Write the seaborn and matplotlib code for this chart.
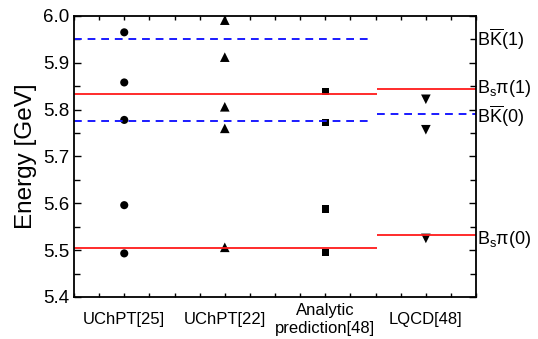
import matplotlib
matplotlib.use("Agg")
import matplotlib.pyplot as plt
from matplotlib.ticker import MultipleLocator
import seaborn as sns
import pandas as pd

sns.set_style("ticks")
plt.rcParams['font.family'] = ['Liberation Sans', 'DejaVu Sans']
plt.rcParams['mathtext.fontset'] = 'custom'
plt.rcParams['mathtext.rm'] = 'Liberation Sans'
plt.rcParams['mathtext.it'] = 'Liberation Sans'
plt.rcParams['text.color'] = 'black'
plt.rcParams['axes.labelcolor'] = 'black'
plt.rcParams['xtick.color'] = 'black'
plt.rcParams['ytick.color'] = 'black'

# Data
categories = ["UChPT[25]", "UChPT[22]", "Analytic\nprediction[48]", "LQCD[48]"]
uchpt25 = [5.965, 5.858, 5.778, 5.596, 5.493]
uchpt22 = [5.991, 5.912, 5.806, 5.760, 5.506]
analytic = [5.838, 5.772, 5.588, 5.495]
lqcd = [5.822, 5.757, 5.525]
markers = ["o", "^", "s", "v"]
marker_sizes = [34, 48, 28, 48]

# thresholds (physical) and lattice ones
bspi_phys = [5.505, 5.833]
bk_phys = [5.775, 5.950]
bspi_lqcd = [5.532, 5.843]
bk_lqcd = [5.790]
threshold_labels = [r"$\mathrm{B\overline{K}(1)}$", r"$\mathrm{B_s\pi(1)}$",
                    r"$\mathrm{B\overline{K}(0)}$", r"$\mathrm{B_s\pi(0)}$"]
threshold_label_y = [5.950, 5.846, 5.785, 5.522]
yticks = [5.4, 5.5, 5.6, 5.7, 5.8, 5.9, 6.0]

series = [uchpt25, uchpt22, analytic, lqcd]
rows = []
for i, (cat, vals) in enumerate(zip(categories, series)):
    for v in vals:
        rows.append({"pos": i + 1, "method": cat, "energy": v})
df = pd.DataFrame(rows)

fig = plt.figure(figsize=(5.38, 3.39), dpi=100)
ax = fig.add_axes([0.1375, 0.124, 0.7475, 0.829])

sns.scatterplot(data=df, x="pos", y="energy", style="method", size="method",
                markers=dict(zip(categories, markers)),
                sizes=dict(zip(categories, marker_sizes)), color="black",
                edgecolor="black", linewidth=0, legend=False, ax=ax)

ax.hlines(bspi_phys, 0.5, 3.517, colors="#ff1a1a", linewidth=1.3, zorder=1)
ax.hlines(bk_phys, 0.5, 3.45, colors="#1a1aff", linewidth=1.4,
          linestyles=(0, (4, 3)), zorder=1)
ax.hlines(bspi_lqcd, 3.517, 4.5, colors="#ff1a1a", linewidth=1.3, zorder=1)
ax.hlines(bk_lqcd, 3.517, 4.5, colors="#1a1aff", linewidth=1.4,
          linestyles=(0, (4, 3)), zorder=1)

ax.set_xlim(0.5, 4.5)
ax.set_ylim(5.4, 6.0)
ax.set_yticks(yticks)
ax.set_yticklabels([f"{t:.1f}" for t in yticks], fontsize=13.5)
ax.yaxis.set_minor_locator(MultipleLocator(0.05))
ax.xaxis.set_major_locator(MultipleLocator(0.25))
ax.set_xticklabels([])
ax.set_xlabel("")
ax.set_ylabel("Energy [GeV]", fontsize=17.5, labelpad=4)

ax.tick_params(axis="both", which="both", direction="in", top=True, right=True,
               width=1, color="black")
ax.tick_params(axis="y", which="major", length=5)
ax.tick_params(axis="y", which="minor", length=4)
ax.tick_params(axis="x", which="major", length=3)
for sp in ax.spines.values():
    sp.set_linewidth(1.3)
    sp.set_color("black")

for i, cat in enumerate(categories):
    ax.text(i + 1, -0.08, cat, transform=ax.get_xaxis_transform(),
            ha="center", va="center", fontsize=12, linespacing=1.25)

for lab, yv in zip(threshold_labels, threshold_label_y):
    ax.text(1.003, yv, lab, transform=ax.get_yaxis_transform(),
            ha="left", va="center", fontsize=13)

fig.savefig("out.png", dpi=100)
